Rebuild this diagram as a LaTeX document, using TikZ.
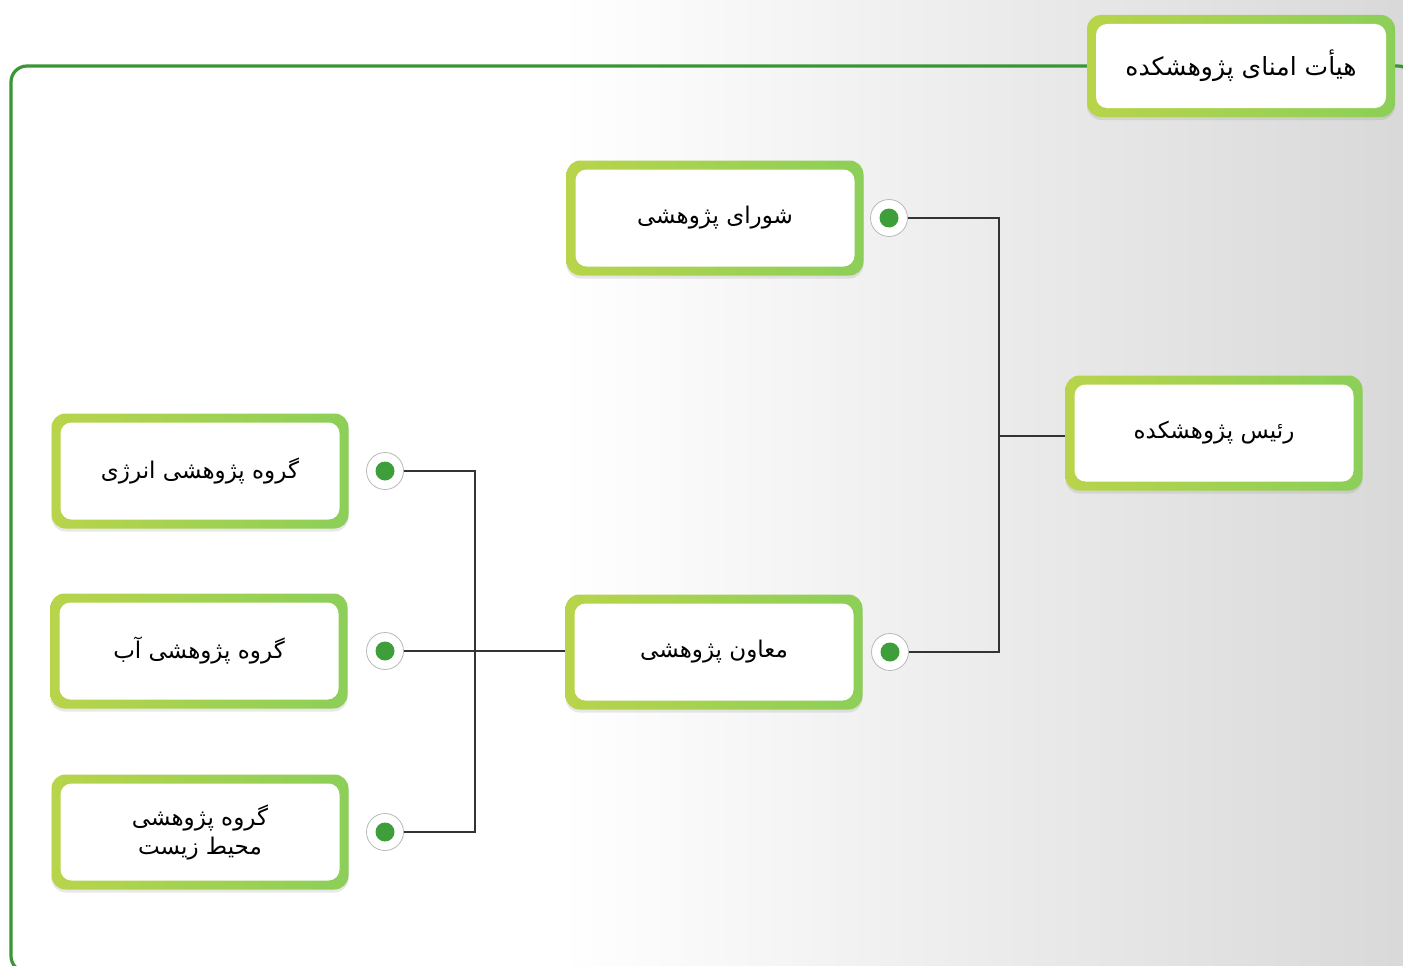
\documentclass[tikz,border=0pt]{standalone}
\usepackage{fontspec}
\newfontfamily\arabicfont[Script=Arabic]{DejaVu Sans}
\TeXXeTstate=1
\usetikzlibrary{positioning,shadows}
\definecolor{leafL}{HTML}{B8D44A}
\definecolor{leafR}{HTML}{8CCF58}
\definecolor{frameGreen}{HTML}{3A9632}
\definecolor{dotGreen}{HTML}{3E9F3A}
\definecolor{wireGray}{HTML}{333333}
\tikzstyle{box}   = [rectangle, rounded corners=14pt, minimum width=297pt, minimum height=115pt,
                     font=\arabicfont\fontsize{23}{29}\selectfont, align=center, text=black,
                     drop shadow={shadow xshift=0pt, shadow yshift=-3pt, opacity=.18},
                     path picture={
                       \shade[left color=leafL, right color=leafR] (path picture bounding box.south west) rectangle (path picture bounding box.north east);
                       \fill[white, rounded corners=11pt] ([shift={(9pt,9pt)}]path picture bounding box.south west) rectangle ([shift={(-9pt,-9pt)}]path picture bounding box.north east);
                     }]
\tikzstyle{dot}   = [circle, minimum size=37pt, inner sep=0pt, fill=white, draw=gray!55, line width=0.8pt,
                     path picture={\fill[dotGreen] (path picture bounding box.center) circle (9.5pt);}]
\tikzstyle{wire}  = [draw=wireGray, line width=1.4pt]
\tikzstyle{frame} = [draw=frameGreen, line width=3.2pt, rounded corners=16pt]
\begin{document}
\begin{tikzpicture}[x=1pt, y=-1pt]
  \useasboundingbox (0,0) rectangle (1403,966);
  %Background
  \fill[white] (0,0) rectangle (1403,966);
  \shade[left color=white, right color=gray!30] (560,0) rectangle (1403,966);

  %Frame
  \coordinate (fTop) at (11,66);
  \draw[frame] (1100,66) -- (fTop) -- (11,972) -- (80,972);
  \draw[frame] (1380,66) -- (1414,66) -- (1414,200);

  %Boxes
  \draw (1241,66) node[box, minimum width=308pt, minimum height=102pt, font=\arabicfont\fontsize{25}{30}\selectfont] (hayat) {\beginR هیأت امنای پژوهشکده\endR};
  \draw (715,218) node[box] (shura) {\beginR شورای پژوهشی\endR};
  \draw (1214,433) node[box] (rais) {\beginR رئیس پژوهشکده\endR};
  \draw (714,652) node[box] (moavin) {\beginR معاون پژوهشی\endR};
  \draw (200,471) node[box] (energy) {\beginR گروه پژوهشی انرژی\endR};
  \draw (199,651) node[box] (ab) {\beginR گروه پژوهشی آب\endR};
  \draw (200,832) node[box] (env) {\beginR گروه پژوهشی\endR\\\beginR محیط زیست\endR};

  %Dots
  \node[dot] (dShura)  at (889,218) {};
  \node[dot] (dMoavin) at (890,652) {};
  \node[dot] (dEnergy) at (385,471) {};
  \node[dot] (dAb)     at (385,651) {};
  \node[dot] (dEnv)    at (385,832) {};

  %Wires
  \coordinate (jR) at (999,436);
  \coordinate (jL) at (475,651);
  \draw[wire] (dShura) -| (jR) |- (dMoavin);
  \draw[wire] (jR) -- (jR -| rais.west);
  \draw[wire] (dEnergy) -| (jL) |- (dEnv);
  \draw[wire] (dAb) -- (dAb -| moavin.west);
\end{tikzpicture}
\end{document}
